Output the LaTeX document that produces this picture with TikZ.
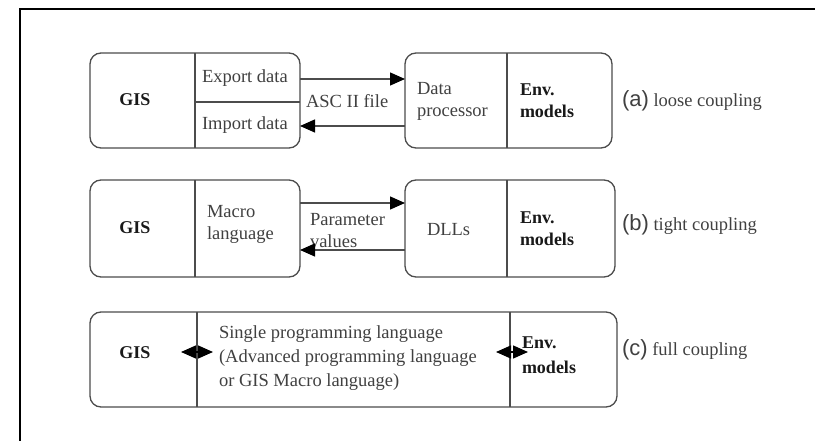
\documentclass[tikz,border=0pt]{standalone}
\usepackage{fontspec}
\setmainfont{Liberation Serif}
\newfontfamily\labelfont{Liberation Sans}
\usetikzlibrary{arrows.meta}
\begin{document}
\begin{tikzpicture}[x=1pt,y=-1pt,
  line width=1.3pt,
  every node/.style={inner sep=0pt, outer sep=0pt},
  panel/.style={draw=black!70, rounded corners=11pt, minimum height=95pt},
  divider/.style={draw=black!70, line width=1.3pt},
  txt/.style={text=black!75, font=\fontsize{18.5}{22}\selectfont, align=left, anchor=west},
  bold/.style={text=black!90, font=\bfseries\fontsize{18}{22}\selectfont, align=left},
  caption/.style={anchor=west, text=black!75, font=\fontsize{18.5}{22}\selectfont},
  flow/.style={draw=black!70, line width=1.3pt, -{Triangle[length=15pt,width=13pt,color=black]}},
  both/.style={draw=black, line width=1.3pt, {Triangle[length=15pt,width=13pt]}-{Triangle[length=15pt,width=13pt]}}
]
\useasboundingbox (0,0) rectangle (815,441);
% outer frame (top and left edges)
\draw[black, line width=1.2pt] (815,9) -- (20,9) -- (20,441);

% ---------- (a) loose coupling ----------
\node[panel, minimum width=210pt] (gisA) at (195,100.5) {};
\node[panel, minimum width=207pt] (envA) at (508.5,100.5) {};
\draw[divider] (195,53) -- (195,148);
\draw[divider] (195,102) -- (300,102);
\draw[divider] (507,53) -- (507,148);
\node[bold] (gisAt) at (135,100) {GIS};
\node[txt] (exportA) at (202,78) {Export data};
\node[txt] (importA) at (202,125) {Import data};
\node[txt] (asciiA) at (306,101) {ASC II file};
\node[txt] (procA) at (417,101) {Data\\processor};
\node[txt, bold, anchor=west] (modA) at (520,101) {Env.\\models};
\node[caption] (capA) at (622,101) {{\labelfont\fontsize{22}{22}\selectfont (a)} loose coupling};
\coordinate (aOutS) at (300,79);
\coordinate (aOutE) at (405,79);
\coordinate (aInS) at (405,126);
\coordinate (aInE) at (300,126);
\draw[flow] (aOutS) -- (aOutE);
\draw[flow] (aInS) -- (aInE);

% ---------- (b) tight coupling ----------
\node[panel, minimum width=210pt, minimum height=97pt] (gisB) at (195,228.5) {};
\node[panel, minimum width=210pt, minimum height=97pt] (envB) at (510,228.5) {};
\draw[divider] (195,180) -- (195,277);
\draw[divider] (507,180) -- (507,277);
\node[bold] (gisBt) at (135,228) {GIS};
\node[txt] (macroB) at (207,224) {Macro\\language};
\node[txt] (paramB) at (310,231) {Parameter\\values};
\node[txt] (dllB) at (427,230) {DLLs};
\node[txt, bold, anchor=west] (modB) at (520,229) {Env.\\models};
\node[caption] (capB) at (622,225) {{\labelfont\fontsize{22}{22}\selectfont (b)} tight coupling};
\coordinate (bOutS) at (300,203);
\coordinate (bOutE) at (405,203);
\coordinate (bInS) at (405,250);
\coordinate (bInE) at (300,250);
\draw[flow] (bOutS) -- (bOutE);
\draw[flow] (bInS) -- (bInE);

% ---------- (c) full coupling ----------
\node[panel, minimum width=527pt] (allC) at (353.5,359.5) {};
\draw[divider] (197,312) -- (197,407);
\draw[divider] (510,312) -- (510,407);
\node[bold] (gisCt) at (135,353) {GIS};
\node[txt, font=\fontsize{18.5}{24}\selectfont] (langC) at (219,358) {Single programming language\\(Advanced programming language\\or GIS Macro language)};
\node[txt, bold, anchor=west, font=\bfseries\fontsize{18}{25}\selectfont] (modC) at (522,355) {Env.\\models};
\node[caption] (capC) at (622,350) {{\labelfont\fontsize{22}{22}\selectfont (c)} full coupling};
\coordinate (cL1) at (181,352);
\coordinate (cL2) at (213,352);
\coordinate (cR1) at (496,352);
\coordinate (cR2) at (528,352);
\draw[both] (cL1) -- (cL2);
\draw[both] (cR1) -- (cR2);
\end{tikzpicture}
\end{document}
